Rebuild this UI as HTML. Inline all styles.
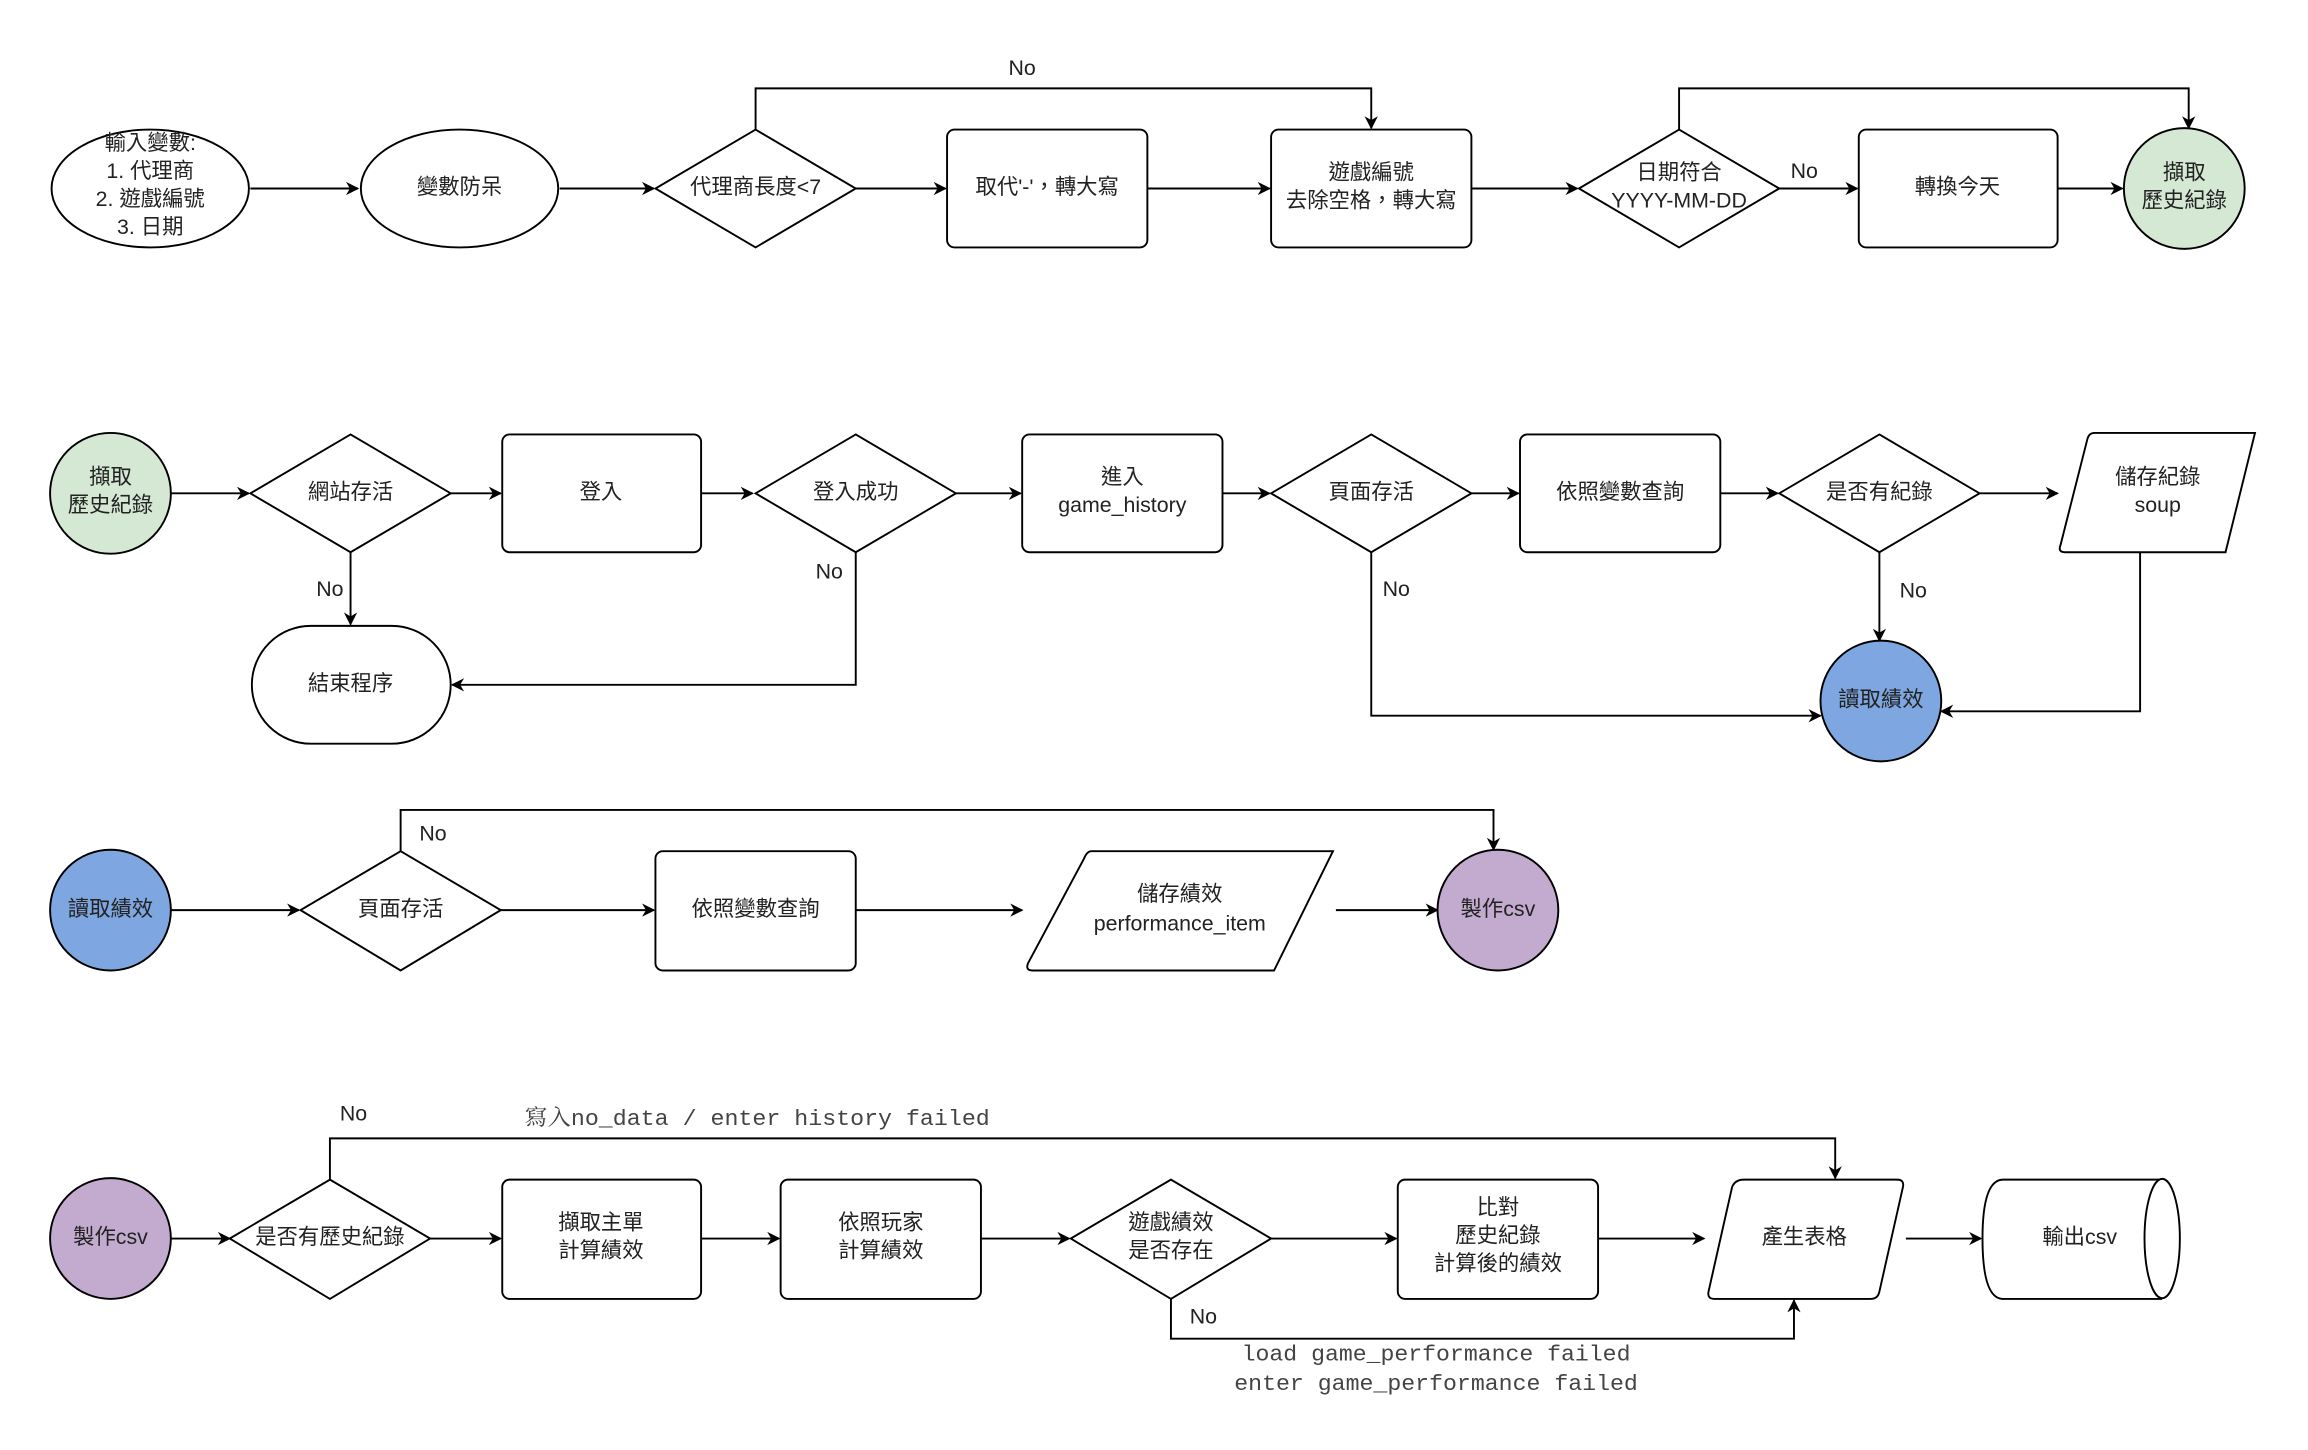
<!DOCTYPE html>
<html><head><meta charset="utf-8"><style>
html,body{margin:0;padding:0;background:#fff;}
svg{display:block;}
text{font-family:"Liberation Sans","Noto Sans CJK TC",sans-serif;font-size:14.5px;fill:#222;text-anchor:middle;dominant-baseline:middle;}
.m{font-family:"Liberation Mono","Noto Serif CJK SC",monospace;fill:#444;font-size:15px;}
.s{fill:#fff;stroke:#000;stroke-width:1.3;}
.l{fill:none;stroke:#000;stroke-width:1.3;}
</style></head><body>
<svg width="2308" height="1450" viewBox="0 0 1567 984.6" preserveAspectRatio="none" xmlns="http://www.w3.org/2000/svg">
<defs><marker id="a" viewBox="0 0 10 10" refX="9" refY="5" markerWidth="9" markerHeight="9" markerUnits="userSpaceOnUse" orient="auto"><path d="M0,0L10,5L0,10L3,5z" fill="#000"/></marker></defs>

<!-- Row 1 -->
<ellipse class="s" cx="102" cy="128" rx="67" ry="40"/>
<text x="102" y="98">輸入變數:</text><text x="102" y="117">1. 代理商</text><text x="102" y="136">2. 遊戲編號</text><text x="102" y="155">3. 日期</text>
<path class="l" d="M170,128H243" marker-end="url(#a)"/>
<ellipse class="s" cx="312" cy="128" rx="67" ry="40"/><text x="312" y="128">變數防呆</text>
<path class="l" d="M380,128H444" marker-end="url(#a)"/>
<path class="s" d="M513,88L581,128L513,168L445,128Z"/><text x="513" y="128">代理商長度&lt;7</text>
<path class="l" d="M581,128H642" marker-end="url(#a)"/>
<rect class="s" x="643" y="88" width="136" height="80" rx="5"/><text x="711" y="128">取代'-'，轉大寫</text>
<path class="l" d="M779,128H862" marker-end="url(#a)"/>
<rect class="s" x="863" y="88" width="136" height="80" rx="5"/><text x="931" y="118">遊戲編號</text><text x="931" y="137">去除空格，轉大寫</text>
<path class="l" d="M513,88V60H931V87" marker-end="url(#a)"/><text x="694" y="47">No</text>
<path class="l" d="M999,128H1071" marker-end="url(#a)"/>
<path class="s" d="M1140,88L1208,128L1140,168L1072,128Z"/><text x="1140" y="118">日期符合</text><text x="1140" y="137">YYYY-MM-DD</text>
<text x="1225" y="117">No</text>
<path class="l" d="M1208,128H1261" marker-end="url(#a)"/>
<rect class="s" x="1262" y="88" width="135" height="80" rx="5"/><text x="1329" y="128">轉換今天</text>
<path class="l" d="M1397,128H1441" marker-end="url(#a)"/>
<path class="l" d="M1140,88V60H1486V87" marker-end="url(#a)"/>
<ellipse cx="1483" cy="128" rx="41" ry="41" fill="#d5e8d4" stroke="#000" stroke-width="1.3"/><text x="1483" y="118">擷取</text><text x="1483" y="137">歷史紀錄</text>

<!-- Row 2 -->
<circle cx="75" cy="335" r="41" fill="#d5e8d4" stroke="#000" stroke-width="1.3"/><text x="75" y="325">擷取</text><text x="75" y="344">歷史紀錄</text>
<path class="l" d="M116,335H169" marker-end="url(#a)"/>
<path class="s" d="M238,295L306,335L238,375L170,335Z"/><text x="238" y="335">網站存活</text>
<path class="l" d="M306,335H340" marker-end="url(#a)"/>
<rect class="s" x="341" y="295" width="135" height="80" rx="5"/><text x="408" y="335">登入</text>
<path class="l" d="M476,335H511" marker-end="url(#a)"/>
<path class="s" d="M581,295L649,335L581,375L513,335Z"/><text x="581" y="335">登入成功</text>
<path class="l" d="M649,335H693" marker-end="url(#a)"/>
<rect class="s" x="694" y="295" width="136" height="80" rx="5"/><text x="762" y="325">進入</text><text x="762" y="344">game_history</text>
<path class="l" d="M830,335H862" marker-end="url(#a)"/>
<path class="s" d="M931,295L999,335L931,375L863,335Z"/><text x="931" y="335">頁面存活</text>
<path class="l" d="M999,335H1031" marker-end="url(#a)"/>
<rect class="s" x="1032" y="295" width="136" height="80" rx="5"/><text x="1100" y="335">依照變數查詢</text>
<path class="l" d="M1168,335H1207" marker-end="url(#a)"/>
<path class="s" d="M1276,295L1344,335L1276,375L1208,335Z"/><text x="1276" y="335">是否有紀錄</text>
<path class="l" d="M1344,335H1397" marker-end="url(#a)"/>
<path class="s" d="M1422,294H1531L1511,375H1402Q1397,375 1399,370L1417,299Q1418,294 1422,294Z"/><text x="1465" y="325">儲存紀錄</text><text x="1465" y="344">soup</text>
<path class="l" d="M238,375V424" marker-end="url(#a)"/><text x="224" y="401">No</text>
<rect class="s" x="171" y="425" width="135" height="80" rx="40"/><text x="238" y="465">結束程序</text>
<path class="l" d="M581,375V465H307" marker-end="url(#a)"/><text x="563" y="389">No</text>
<path class="l" d="M931,375V486H1236" marker-end="url(#a)"/><text x="948" y="401">No</text>
<path class="l" d="M1276,375V435" marker-end="url(#a)"/><text x="1299" y="402">No</text>
<path class="l" d="M1453,375V483H1318" marker-end="url(#a)"/>
<circle cx="1277" cy="476" r="41" fill="#7ea6e0" stroke="#000" stroke-width="1.3"/><text x="1277" y="476">讀取績效</text>

<!-- Row 3 -->
<circle cx="75" cy="618" r="41" fill="#7ea6e0" stroke="#000" stroke-width="1.3"/><text x="75" y="618">讀取績效</text>
<path class="l" d="M116,618H203" marker-end="url(#a)"/>
<path class="s" d="M272,578L340,618L272,659L204,618Z"/><text x="272" y="618">頁面存活</text>
<path class="l" d="M340,618H444" marker-end="url(#a)"/>
<rect class="s" x="445" y="578" width="136" height="81" rx="5"/><text x="513" y="618">依照變數查詢</text>
<path class="l" d="M581,618H694" marker-end="url(#a)"/>
<path class="s" d="M741,578H905L865,659H701Q696,659 698,654L736,583Q738,578 741,578Z"/><text x="801" y="608">儲存績效</text><text x="801" y="628">performance_item</text>
<path class="l" d="M907,618H976" marker-end="url(#a)"/>
<path class="l" d="M272,578V550H1014V577" marker-end="url(#a)"/><text x="294" y="567">No</text>
<circle cx="1017" cy="618" r="41" fill="#c3abd0" stroke="#000" stroke-width="1.3"/><text x="1017" y="618">製作csv</text>

<!-- Row 4 -->
<circle cx="75" cy="841" r="41" fill="#c3abd0" stroke="#000" stroke-width="1.3"/><text x="75" y="841">製作csv</text>
<path class="l" d="M116,841H156" marker-end="url(#a)"/>
<path class="s" d="M224,801L292,841L224,882L156,841Z"/><text x="224" y="841">是否有歷史紀錄</text>
<path class="l" d="M292,841H340" marker-end="url(#a)"/>
<rect class="s" x="341" y="801" width="135" height="81" rx="5"/><text x="408" y="831">擷取主單</text><text x="408" y="850">計算績效</text>
<path class="l" d="M476,841H529" marker-end="url(#a)"/>
<rect class="s" x="530" y="801" width="136" height="81" rx="5"/><text x="598" y="831">依照玩家</text><text x="598" y="850">計算績效</text>
<path class="l" d="M666,841H726" marker-end="url(#a)"/>
<path class="s" d="M795,801L863,841L795,882L727,841Z"/><text x="795" y="831">遊戲績效</text><text x="795" y="850">是否存在</text>
<path class="l" d="M863,841H948" marker-end="url(#a)"/>
<rect class="s" x="949" y="801" width="136" height="81" rx="5"/><text x="1017" y="821">比對</text><text x="1017" y="840">歷史紀錄</text><text x="1017" y="859">計算後的績效</text>
<path class="l" d="M1085,841H1157" marker-end="url(#a)"/>
<path class="s" d="M1184,801H1288Q1293,801 1292,806L1276,877Q1275,882 1270,882H1164Q1159,882 1160,877L1176,806Q1178,801 1184,801Z"/><text x="1225" y="841">產生表格</text>
<path class="l" d="M1294,841H1345" marker-end="url(#a)"/>
<path class="s" d="M1468,801H1360Q1346,801 1346,841Q1346,882 1360,882H1468"/>
<ellipse class="s" cx="1468" cy="841" rx="12" ry="40.5"/><text x="1412" y="841">輸出csv</text>
<path class="l" d="M224,801V773H1246V800" marker-end="url(#a)"/><text x="240" y="757">No</text>
<text class="m" x="514" y="760" textLength="316" lengthAdjust="spacingAndGlyphs">寫入no_data / enter history failed</text>
<path class="l" d="M795,882V909H1218V883" marker-end="url(#a)"/><text x="817" y="895">No</text>
<text class="m" x="975" y="920" textLength="264" lengthAdjust="spacingAndGlyphs">load game_performance failed</text>
<text class="m" x="975" y="940" textLength="274" lengthAdjust="spacingAndGlyphs">enter game_performance failed</text>
</svg>
</body></html>
